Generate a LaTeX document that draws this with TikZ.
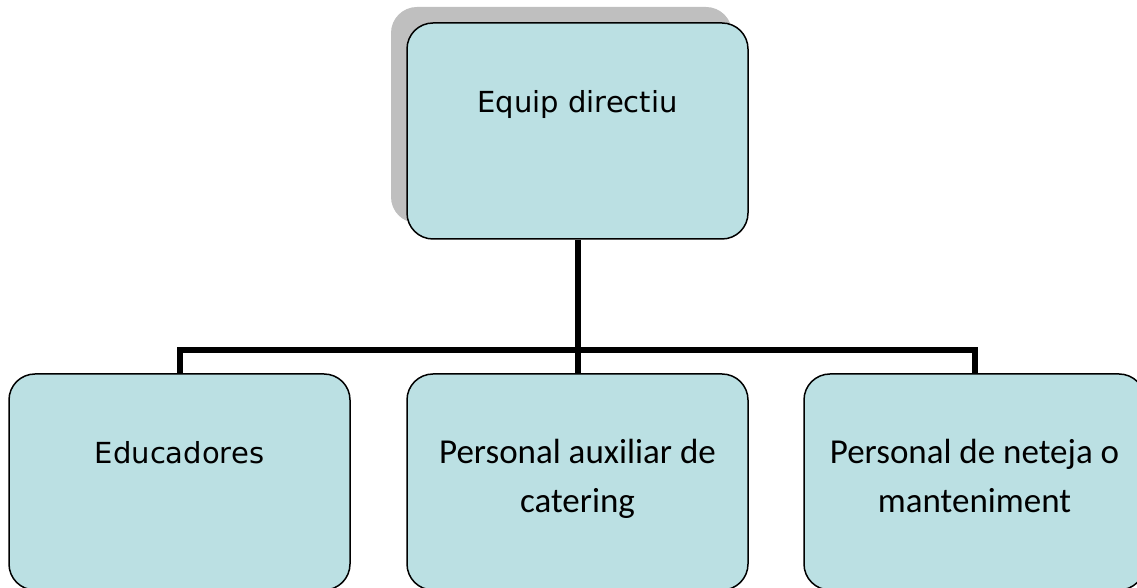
\documentclass[tikz,border=0pt]{standalone}
\usepackage{fontspec}
\newfontfamily\vsans{DejaVu Sans}
\newfontfamily\csans{Carlito}
\usetikzlibrary{shadows}
\definecolor{boxfill}{RGB}{187,224,227}
\begin{document}
\begin{tikzpicture}[x=1pt,y=1pt,
    post/.style={draw=black,line width=1.5pt,fill=boxfill,rounded corners=26pt,
      minimum width=341pt,minimum height=216pt,align=center,
      text height=20pt,text depth=56pt},
    twolines/.style={text height=70pt,text depth=8pt},
    vfont/.style={font=\vsans\fontsize{29}{35}\selectfont},
    cfont/.style={font=\csans\fontsize{35}{49}\selectfont},
    bus/.style={line width=6pt}]
  \useasboundingbox (0,0) rectangle (1137,588);
  \draw
    (577.5,457) node[post,vfont,drop shadow={shadow xshift=-16pt,shadow yshift=16pt,
      fill=gray!50,opacity=1}] (dir){Equip directiu}
    (179.5,106) node[post,vfont] (edu){Educadores}
    (577.5,106) node[post,cfont,twolines] (aux){Personal auxiliar de\\catering}
    (974.5,106) node[post,cfont,twolines] (net){Personal de neteja o\\manteniment};
  \coordinate (mid) at (577.5,237.5);
  \begin{scope}[bus]
    \draw (dir.south) -- (aux.north);
    \draw (edu.north) |- (mid) -| (net.north);
  \end{scope}
\end{tikzpicture}
\end{document}
